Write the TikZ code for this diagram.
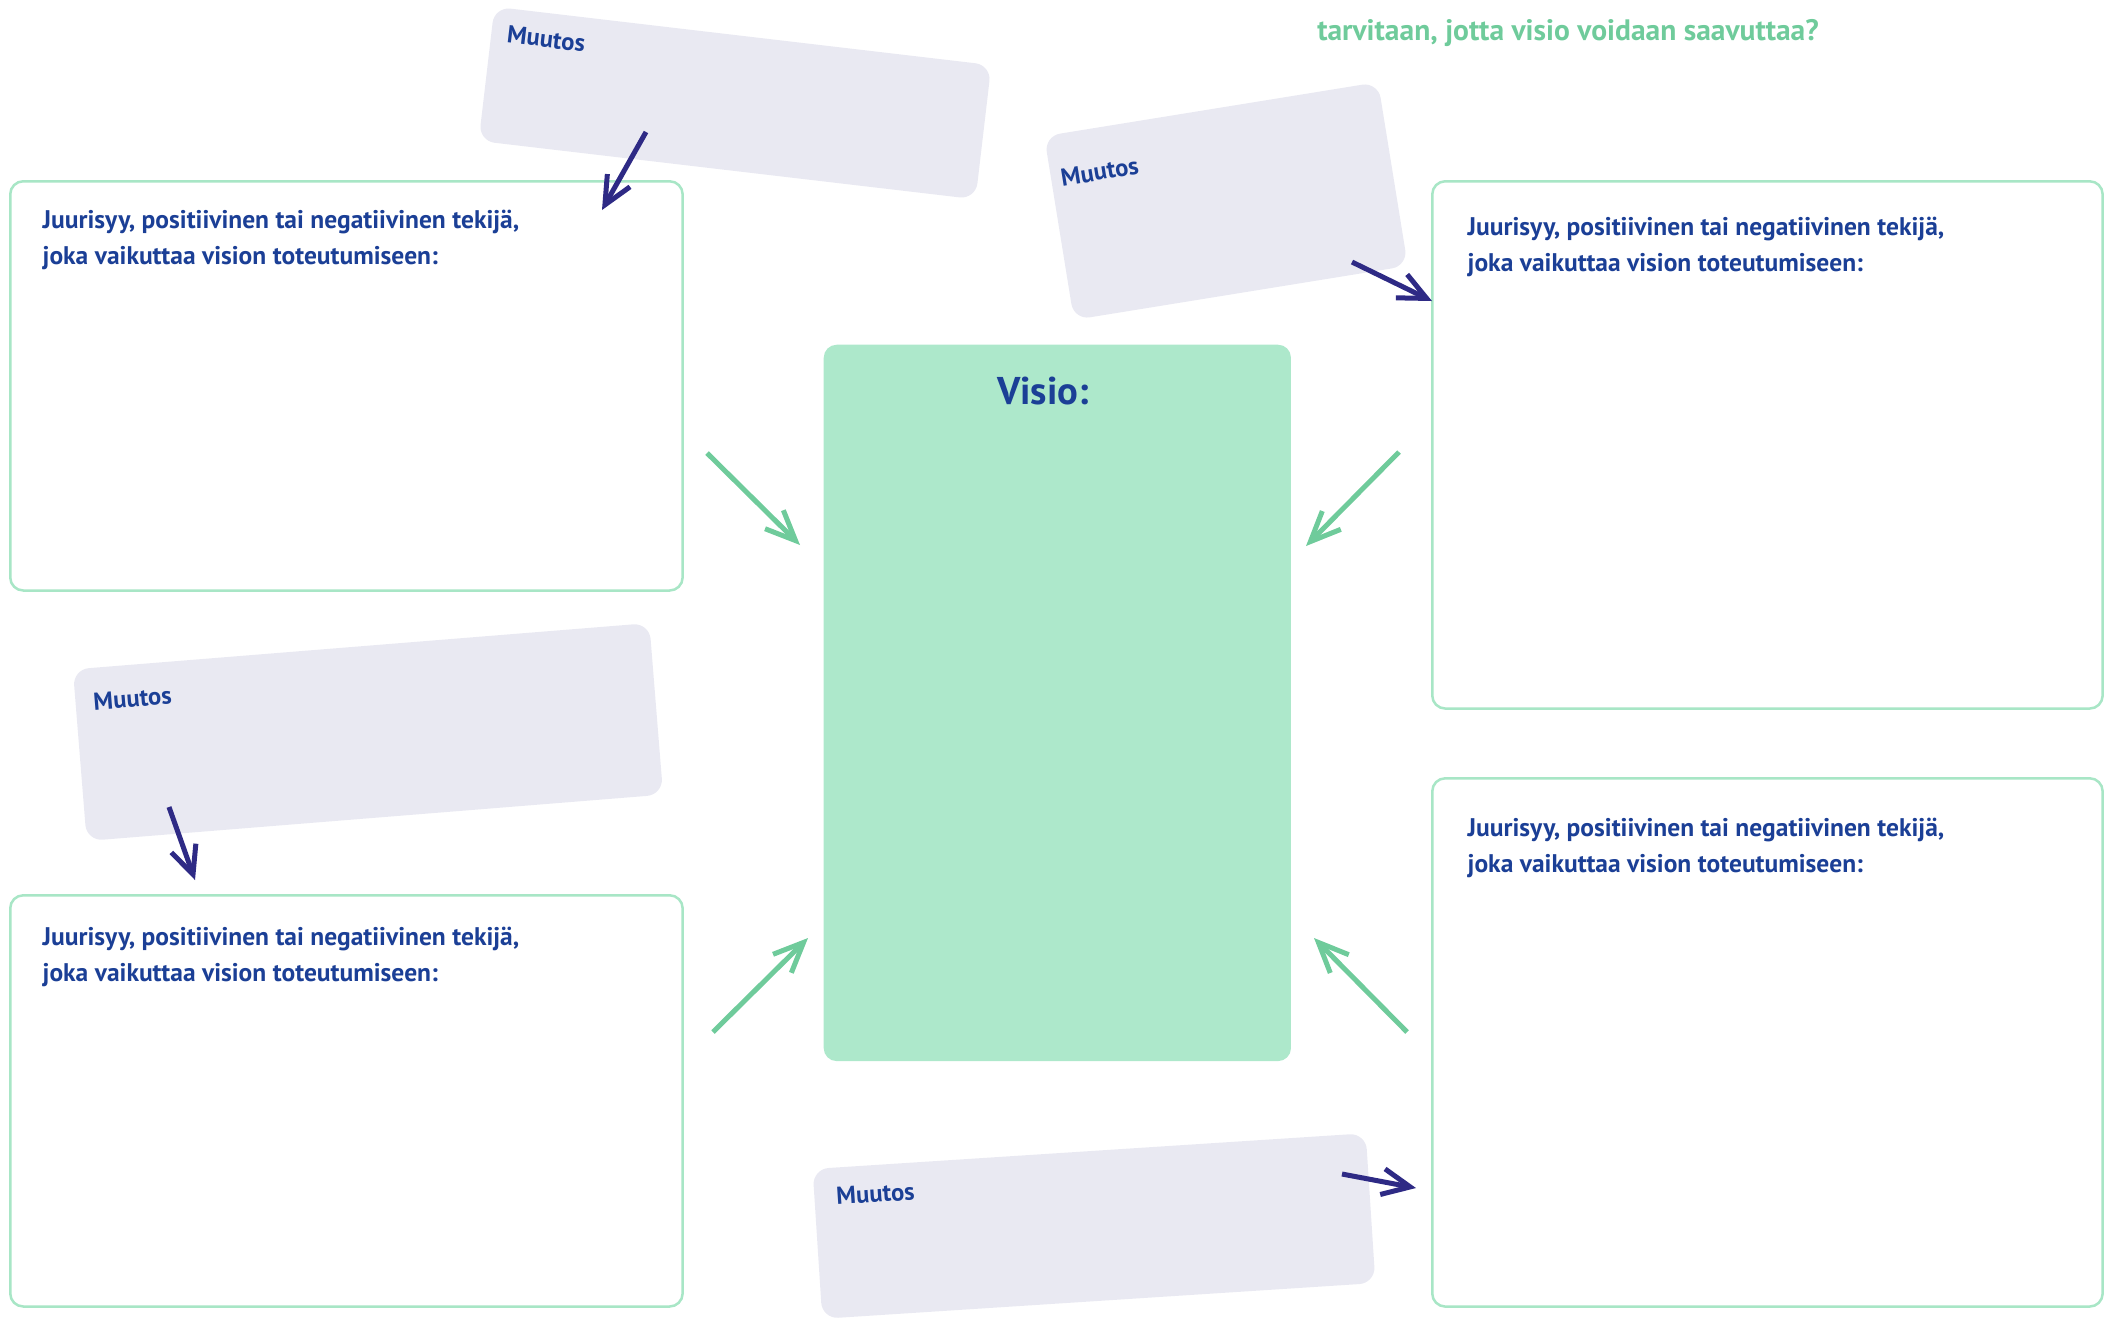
\documentclass[tikz,border=0pt]{standalone}
\usepackage{fontspec}
\setmainfont{PT Sans}
\usetikzlibrary{arrows.meta}
\definecolor{ink}{HTML}{1B3F96}
\definecolor{mint}{HTML}{ADE8CB}
\definecolor{mintline}{HTML}{A8E6C6}
\definecolor{leaf}{HTML}{6FCB9B}
\definecolor{indigo}{HTML}{2E2A85}
\definecolor{haze}{HTML}{E9E9F2}
\begin{document}
\begin{tikzpicture}[x=0.01cm,y=-0.01cm,
  factor/.style={draw=mintline, line width=0.025cm, rounded corners=0.13cm,
    fill=white, anchor=north west, inner sep=0pt},
  factortext/.style={anchor=north west, inner sep=0pt, align=left, text=ink,
    font=\bfseries\fontsize{7.25}{10.3}\selectfont},
  changebox/.style={fill=haze, rounded corners=0.16cm, inner sep=0pt},
  changetext/.style={anchor=north west, inner sep=0pt, text=ink,
    font=\bfseries\fontsize{7}{8}\selectfont},
  push/.style={draw=indigo, line width=0.05cm,
    -{Straight Barb[length=0.28cm,width=0.26cm]}},
  pull/.style={draw=leaf, line width=0.05cm,
    -{Straight Barb[length=0.3cm,width=0.26cm]}}]
\useasboundingbox (0,0) rectangle (2109,1317);

% question heading
\node[text=leaf, font=\bfseries\fontsize{8.4}{10}\selectfont] (q) at (1568,33)
  {tarvitaan, jotta visio voidaan saavuttaa?};

% vision in the middle
\node[fill=mint, rounded corners=0.13cm, anchor=north west, inner sep=0pt,
  minimum width=4.67cm, minimum height=7.16cm] (vision) at (823,344) {};
\node[text=ink, font=\bfseries\fontsize{11}{13}\selectfont] (visiotitle)
  at (1043,391) {Visio:};

% root cause boxes
\node[factor, minimum width=6.72cm, minimum height=4.09cm] (f1) at (9,180) {};
\node[factor, minimum width=6.72cm, minimum height=4.11cm] (f2) at (9,894) {};
\node[factor, minimum width=6.70cm, minimum height=5.27cm] (f3) at (1431,180) {};
\node[factor, minimum width=6.70cm, minimum height=5.28cm] (f4) at (1431,777) {};

\node[factortext] (f1t) at ([shift={(33,29)}]f1.north west)
  {Juurisyy, positiivinen tai negatiivinen tekijä,\\joka vaikuttaa vision toteutumiseen:};
\node[factortext] (f2t) at ([shift={(33,32)}]f2.north west)
  {Juurisyy, positiivinen tai negatiivinen tekijä,\\joka vaikuttaa vision toteutumiseen:};
\node[factortext] (f3t) at ([shift={(36,36)}]f3.north west)
  {Juurisyy, positiivinen tai negatiivinen tekijä,\\joka vaikuttaa vision toteutumiseen:};
\node[factortext] (f4t) at ([shift={(36,40)}]f4.north west)
  {Juurisyy, positiivinen tai negatiivinen tekijä,\\joka vaikuttaa vision toteutumiseen:};

% tilted change notes
\begin{scope}[shift={(735,103)}, rotate=-6.7, transform shape]
  \node[changebox, minimum width=5.0cm, minimum height=1.35cm] (m1) at (0,0) {};
  \node[changetext] (m1t) at ([shift={(16,17)}]m1.north west) {Muutos};
\end{scope}
\begin{scope}[shift={(1226,201)}, rotate=9.2, transform shape]
  \node[changebox, minimum width=3.38cm, minimum height=1.86cm] (m2) at (0,0) {};
  \node[changetext] (m2t) at ([shift={(10,35)}]m2.north west) {Muutos};
\end{scope}
\begin{scope}[shift={(368,732)}, rotate=4.6, transform shape]
  \node[changebox, minimum width=5.78cm, minimum height=1.72cm] (m3) at (0,0) {};
  \node[changetext] (m3t) at ([shift={(18,25)}]m3.north west) {Muutos};
\end{scope}
\begin{scope}[shift={(1094,1226)}, rotate=3.7, transform shape]
  \node[changebox, minimum width=5.54cm, minimum height=1.50cm] (m4) at (0,0) {};
  \node[changetext] (m4t) at ([shift={(22,20)}]m4.north west) {Muutos};
\end{scope}

% arrow ends
\coordinate (g1s) at (707,453);  \coordinate (g1e) at (800,545);
\coordinate (g2s) at (1399,452); \coordinate (g2e) at (1306,546);
\coordinate (g3s) at (1407,1032);\coordinate (g3e) at (1314,938);
\coordinate (g4s) at (713,1032); \coordinate (g4e) at (808,938);
\coordinate (d1s) at (646,132);  \coordinate (d1e) at (602,210);
\coordinate (d2s) at (1352,262); \coordinate (d2e) at (1432,301);
\coordinate (d3s) at (169,807);  \coordinate (d3e) at (195,880);
\coordinate (d4s) at (1342,1174);\coordinate (d4e) at (1416,1188);

% causes pointing at the vision
\draw[pull] (g1s) -- (g1e);
\draw[pull] (g2s) -- (g2e);
\draw[pull] (g3s) -- (g3e);
\draw[pull] (g4s) -- (g4e);

% changes pointing at the causes
\draw[push] (d1s) -- (d1e);
\draw[push] (d2s) -- (d2e);
\draw[push] (d3s) -- (d3e);
\draw[push] (d4s) -- (d4e);
\end{tikzpicture}
\end{document}
